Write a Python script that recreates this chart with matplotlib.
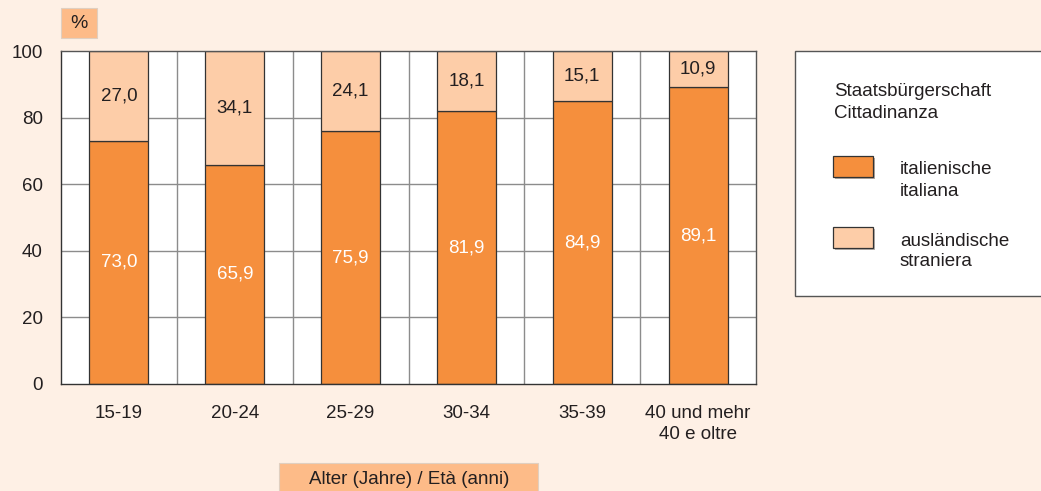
import matplotlib
matplotlib.use("Agg")
import matplotlib.pyplot as plt
from matplotlib.patches import Rectangle
import matplotlib.patheffects as pe

plt.rcParams['font.family'] = ['Liberation Sans', 'DejaVu Sans']

categories = ["15-19", "20-24", "25-29", "30-34", "35-39", "40 und mehr\n40 e oltre"]
italiana = [73.0, 65.9, 75.9, 81.9, 84.9, 89.1]
straniera = [27.0, 34.1, 24.1, 18.1, 15.1, 10.9]
yticks = [0, 20, 40, 60, 80, 100]

bg = "#FEF0E5"
dark = "#F58F3D"
light = "#FDCDA8"
box = "#FDBB88"
text_c = "#231F20"
fs = 13.5

W, H = 1041, 491
fig = plt.figure(figsize=(W / 100, H / 100), dpi=100, facecolor=bg)

def fx(px):
    return px / W

def fy(py):
    return 1 - py / H

# plot area
left, right, top, bottom = 61, 756, 51, 384
ax = fig.add_axes([fx(left), fy(bottom), fx(right - left), (bottom - top) / H])
ax.set_facecolor("white")
ax.set_xlim(-0.5, len(categories) - 0.5)
ax.set_ylim(0, 100)

for y in yticks[1:-1]:
    ax.axhline(y, color="#8C8C8C", lw=1.0, zorder=0)
for i in range(len(categories) - 1):
    ax.axvline(i + 0.5, color="#8C8C8C", lw=1.0, zorder=0)

x = range(len(categories))
bw = 0.51
ax.bar(x, italiana, width=bw, color=dark, edgecolor="#333333", lw=0.9, zorder=2)
ax.bar(x, straniera, width=bw, bottom=italiana, color=light, edgecolor="#333333", lw=0.9, zorder=2)

for i, (a, b) in enumerate(zip(italiana, straniera)):
    ax.text(i, a / 2, f"{a:.1f}".replace(".", ","), ha="center", va="center",
            color="white", fontsize=fs, zorder=3)
    ax.text(i, a + b / 2, f"{b:.1f}".replace(".", ","), ha="center", va="center",
            color=text_c, fontsize=fs, zorder=3)

ax.set_xticks(list(x))
ax.set_xticklabels(categories, fontsize=fs, color=text_c, linespacing=1.3, va="top")
ax.set_yticks(yticks)
ax.set_yticklabels([str(v) for v in yticks], fontsize=fs, color=text_c)
ax.tick_params(axis="y", length=0, pad=13)
ax.tick_params(axis="x", length=0, pad=15)
for s in ax.spines.values():
    s.set_color("#555555")
    s.set_linewidth(1.0)
ax.spines["left"].set_color("#333333")
ax.spines["bottom"].set_color("#333333")

# unit box
fig.patches.append(Rectangle((fx(61), fy(38)), fx(97 - 61), (38 - 8) / H,
                             transform=fig.transFigure, facecolor=box,
                             edgecolor="#E0CFC0", lw=0.8))
fig.text(fx(79), fy(24), "%", ha="center", va="center", fontsize=14, color=text_c)

# axis title box
fig.patches.append(Rectangle((fx(279), fy(495)), fx(538 - 279), (495 - 463) / H,
                             transform=fig.transFigure, facecolor=box,
                             edgecolor="#E0CFC0", lw=0.8))
fig.text(fx(409), fy(479), "Alter (Jahre) / Età (anni)", ha="center", va="center",
         fontsize=fs, color=text_c)

# legend panel
fig.patches.append(Rectangle((fx(795), fy(296)), fx(1050 - 795), (296 - 51) / H,
                             transform=fig.transFigure, facecolor="white",
                             edgecolor="#555555", lw=1.0))
fig.text(fx(834), fy(91), "Staatsbürgerschaft", ha="left", va="center", fontsize=fs, color=text_c)
fig.text(fx(834), fy(113), "Cittadinanza", ha="left", va="center", fontsize=fs, color=text_c)

entries = [(dark, 156, "italienische", "italiana"), (light, 227, "ausländische", "straniera")]
for col, ytop, de, it in entries:
    r = Rectangle((fx(833), fy(ytop + 21)), fx(40), 21 / H, transform=fig.transFigure,
                  facecolor=col, edgecolor="#333333", lw=0.9,
                  path_effects=[pe.SimplePatchShadow(offset=(1.5, -1.5), alpha=0.4), pe.Normal()])
    fig.patches.append(r)
    fig.text(fx(900), fy(ytop + 14), de, ha="left", va="center", fontsize=fs, color=text_c)
    fig.text(fx(900), fy(ytop + 35), it, ha="left", va="center", fontsize=fs, color=text_c)

fig.savefig("out.png", dpi=100, facecolor=bg)
